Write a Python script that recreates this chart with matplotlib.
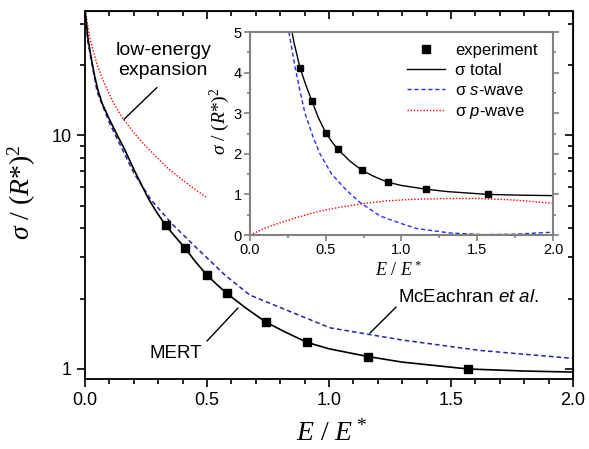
import numpy as np
import matplotlib
matplotlib.use("Agg")
import matplotlib.pyplot as plt
from matplotlib.ticker import MultipleLocator, LogLocator, NullFormatter, FixedLocator
from matplotlib.lines import Line2D

plt.rcParams["font.family"] = ["Liberation Sans", "DejaVu Sans"]
plt.rcParams["mathtext.fontset"] = "custom"
plt.rcParams["mathtext.rm"] = "Liberation Serif"
plt.rcParams["mathtext.it"] = "Liberation Serif:italic"
plt.rcParams["mathtext.sf"] = "Liberation Sans:italic"

# experiment
exp_x = [0.33, 0.41, 0.50, 0.58, 0.74, 0.91, 1.16, 1.57]
exp_y = [4.12, 3.29, 2.52, 2.11, 1.59, 1.30, 1.13, 1.00]

# MERT total cross section
mert_x = [0.0, 0.012, 0.025, 0.04, 0.053, 0.07, 0.1, 0.13, 0.16, 0.2, 0.258, 0.29, 0.33,
          0.37, 0.41, 0.45, 0.5, 0.54, 0.58, 0.66, 0.74, 0.82, 0.91, 1.0, 1.16, 1.3,
          1.57, 1.8, 2.0]
mert_y = [34.5, 26.0, 21.5, 17.8, 15.6, 13.7, 11.7, 10.1, 8.8, 7.15, 5.4, 4.75, 4.12,
          3.68, 3.29, 2.9, 2.52, 2.3, 2.11, 1.82, 1.59, 1.44, 1.30, 1.22, 1.13, 1.07,
          1.0, 0.98, 0.97]

# McEachran et al.
mce_x = [0.0, 0.012, 0.05, 0.1, 0.2, 0.27, 0.362, 0.458, 0.574, 0.676, 1.004, 1.3, 1.62, 2.0]
mce_y = [34.5, 25.0, 15.3, 11.3, 6.9, 5.3, 4.12, 3.29, 2.52, 2.07, 1.5, 1.33, 1.2, 1.11]

# low-energy expansion
low_x = [0.0, 0.02, 0.05, 0.08, 0.116, 0.156, 0.2, 0.238, 0.29, 0.335, 0.38, 0.418, 0.46, 0.5]
low_y = [34.5, 26.0, 19.95, 16.6, 13.8, 11.75, 10.28, 9.23, 8.13, 7.29, 6.68, 6.22, 5.78, 5.40]

# partial waves (inset)
s_x = [0.257, 0.297, 0.33, 0.363, 0.418, 0.462, 0.539, 0.638, 0.726, 0.858, 0.924, 1.0,
       1.1, 1.32, 1.54, 1.75, 2.0]
s_y = [5.0, 4.15, 3.55, 3.0, 2.4, 2.0, 1.5, 1.1, 0.8, 0.47, 0.38, 0.28, 0.16, 0.05,
       0.01, 0.02, 0.07]
p_x = [0.0, 0.1, 0.198, 0.3, 0.4, 0.5, 0.6, 0.74, 0.9, 1.08, 1.3, 1.52, 1.75, 2.0]
p_y = [0.0, 0.17, 0.30, 0.42, 0.53, 0.62, 0.69, 0.77, 0.84, 0.88, 0.9, 0.9, 0.86, 0.78]

fig = plt.figure(figsize=(5.89, 4.49), dpi=100)
ax = fig.add_axes([0.1443, 0.1559, 0.8285, 0.8196])

ax.plot(low_x, low_y, color="red", lw=1.0, linestyle=(0, (1, 1.3)))
ax.plot(mce_x, mce_y, color="#2424a8", lw=1.1, linestyle=(0, (3, 2)))
ax.plot(mert_x, mert_y, color="black", lw=1.2)
ax.plot(exp_x, exp_y, "s", color="black", ms=6)

ax.set_yscale("log")
ax.set_xlim(0, 2)
ax.set_ylim(0.906, 34)
ax.xaxis.set_major_locator(MultipleLocator(0.5))
ax.xaxis.set_minor_locator(MultipleLocator(0.1))
ax.xaxis.set_major_formatter(plt.FuncFormatter(lambda v, p: f"{v:.1f}"))
ax.yaxis.set_major_locator(FixedLocator([1, 10]))
ax.yaxis.set_major_formatter(plt.FuncFormatter(lambda v, p: f"{v:g}"))
ax.yaxis.set_minor_locator(LogLocator(subs=range(2, 10)))
ax.yaxis.set_minor_formatter(NullFormatter())
ax.tick_params(which="both", direction="out", width=1.2, labelsize=13)
ax.tick_params(which="major", length=6)
ax.tick_params(which="minor", length=3.5)
for s in ax.spines.values():
    s.set_linewidth(1.3)

secx = ax.secondary_xaxis("top")
secx.xaxis.set_major_locator(MultipleLocator(0.5))
secx.xaxis.set_minor_locator(MultipleLocator(0.1))
secx.xaxis.set_major_formatter(NullFormatter())
secx.tick_params(which="both", direction="in", width=1.2)
secx.tick_params(which="major", length=6)
secx.tick_params(which="minor", length=3.5)

secy = ax.secondary_yaxis("right")
secy.yaxis.set_major_locator(FixedLocator([1, 10]))
secy.yaxis.set_minor_locator(LogLocator(subs=range(2, 10)))
secy.yaxis.set_major_formatter(NullFormatter())
secy.yaxis.set_minor_formatter(NullFormatter())
secy.tick_params(which="both", direction="in", width=1.2)
secy.tick_params(which="major", length=6)
secy.tick_params(which="minor", length=3.5)

fig.text(0.0374, 0.572, r"$\sigma$ / ($R$*)$^2$", rotation=90, ha="center", va="center",
         fontsize=20, family="Liberation Serif")
fig.text(0.5637, 0.0356, r"$E$ / $E^*$", ha="center", va="center", fontsize=20,
         family="Liberation Serif")

ax.text(0.32, 20.9, "low-energy\nexpansion", ha="center", va="center", fontsize=14,
        linespacing=1.2)
ax.annotate("", xy=(0.16, 11.7), xytext=(0.295, 16.0),
            arrowprops=dict(arrowstyle="-", lw=1.0, color="black", shrinkA=0, shrinkB=0))
ax.text(0.373, 1.16, "MERT", ha="center", va="center", fontsize=13.5)
ax.annotate("", xy=(0.627, 1.824), xytext=(0.5, 1.317),
            arrowprops=dict(arrowstyle="-", lw=1.0, color="black", shrinkA=0, shrinkB=0))
ax.text(1.283, 2.03, r"McEachran $\mathsf{et}$ $\mathsf{al}$.", ha="left", va="center",
        fontsize=13.5)
ax.annotate("", xy=(1.168, 1.425), xytext=(1.275, 1.84),
            arrowprops=dict(arrowstyle="-", lw=1.0, color="black", shrinkA=0, shrinkB=0))

# inset
axi = fig.add_axes([0.4244, 0.4766, 0.5145, 0.4521])
axi.plot(p_x, p_y, color="red", lw=1.0, linestyle=(0, (1, 1.3)))
axi.plot(s_x, s_y, color="#2a2aff", lw=1.0, linestyle=(0, (3, 2)))
axi.plot(mert_x, mert_y, color="black", lw=1.0)
axi.plot(exp_x, exp_y, "s", color="black", ms=4.2)
axi.set_xlim(0, 2)
axi.set_ylim(0, 5)
axi.xaxis.set_major_locator(MultipleLocator(0.5))
axi.xaxis.set_minor_locator(MultipleLocator(0.25))
axi.xaxis.set_major_formatter(plt.FuncFormatter(lambda v, p: f"{v:.1f}"))
axi.yaxis.set_major_locator(MultipleLocator(1))
axi.yaxis.set_minor_locator(MultipleLocator(0.5))
axi.tick_params(which="both", direction="out", color="#808080", width=1.2, labelsize=10.5,
                right=True, pad=2)
axi.tick_params(which="major", length=4)
axi.tick_params(which="minor", length=2.5)
for s in axi.spines.values():
    s.set_color("#808080")
    s.set_linewidth(1.5)

fig.text(0.3735, 0.7305, r"$\sigma$ / ($R$*)$^2$", rotation=90, ha="center", va="center",
         fontsize=14, family="Liberation Serif")
fig.text(0.676, 0.399, r"$E$ / $E^*$", ha="center", va="center", fontsize=13,
         family="Liberation Serif")

handles = [
    Line2D([], [], marker="s", color="black", ls="none", ms=6),
    Line2D([], [], color="black", lw=1.0),
    Line2D([], [], color="#2a2aff", lw=1.0, linestyle=(0, (3, 2))),
    Line2D([], [], color="red", lw=1.0, linestyle=(0, (1, 1.3))),
]
labels = ["experiment", "σ total", r"σ $\mathsf{s}$-wave", r"σ $\mathsf{p}$-wave"]
axi.legend(handles, labels, loc="upper left", bbox_to_anchor=(0.691, 0.905),
           bbox_transform=fig.transFigure, frameon=False, fontsize=12, borderpad=0,
           borderaxespad=0, handlelength=2.3, handletextpad=0.6, labelspacing=0.32)

fig.savefig("out.png", dpi=100)
